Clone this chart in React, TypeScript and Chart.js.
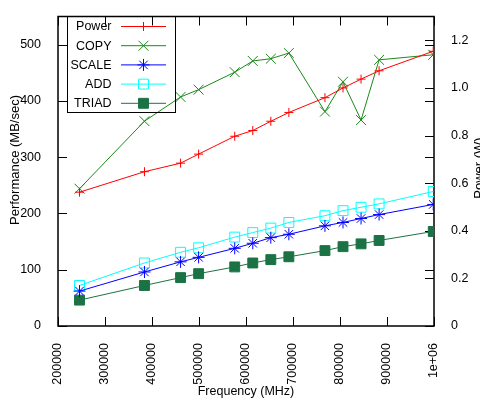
import React, { useEffect, useRef } from 'react';
import { Chart, registerables } from 'chart.js';
import { drawPoint } from 'chart.js/helpers';

Chart.register(...registerables);

const frequencies = [245760, 384000, 460800, 499200, 576000, 614400, 652800, 691200, 768000, 806400, 844800, 883200, 998400];
const powerW = [0.562, 0.648, 0.684, 0.722, 0.797, 0.821, 0.86, 0.897, 0.959, 1.0, 1.037, 1.072, 1.154];
const copyMB = [244, 364, 407, 420, 451, 471, 475, 485, 381, 434, 366, 473, 482];
const scaleMB = [62, 96, 114, 122, 138, 147, 157, 163, 178, 184, 191, 198, 216];
const addMB = [72, 112, 131, 139, 158, 166, 174, 184, 196, 205, 211, 217, 239];
const triadMB = [46, 72, 86, 93, 105, 112, 118, 123, 134, 141, 146, 152, 168];

const xTitle = 'Frequency (MHz)';
const yTitle = 'Performance (MB/sec)';
const y2Title = 'Power (W)';

const FONT = '"Liberation Sans", Arial, Helvetica, sans-serif';

const pts = (vals: number[]) => frequencies.map((f, i) => ({ x: f, y: vals[i] }));

const framePlugin = {
  id: 'frameTicks',
  beforeDatasetsDraw(chart: any) {
    const { ctx, chartArea } = chart;
    const { left, right, top, bottom } = chartArea;
    const sx = chart.scales.x;
    const sy = chart.scales.y;
    const sy2 = chart.scales.y2;
    const T = 9;
    ctx.save();
    ctx.strokeStyle = '#000';
    ctx.lineWidth = 1;
    ctx.beginPath();
    sx.ticks.forEach((t: any) => {
      const px = Math.round(sx.getPixelForValue(t.value)) + 0.5;
      ctx.moveTo(px, bottom);
      ctx.lineTo(px, bottom - T);
      ctx.moveTo(px, top);
      ctx.lineTo(px, top + T);
    });
    sy.ticks.forEach((t: any) => {
      const py = Math.round(sy.getPixelForValue(t.value)) + 0.5;
      ctx.moveTo(left, py);
      ctx.lineTo(left + T, py);
      ctx.moveTo(right, py);
      ctx.lineTo(right - T, py);
    });
    sy2.ticks.forEach((t: any) => {
      const py = Math.round(sy2.getPixelForValue(t.value)) + 0.5;
      ctx.moveTo(right, py);
      ctx.lineTo(right - T, py);
    });
    ctx.stroke();
    ctx.lineWidth = 1.5;
    ctx.strokeRect(left, top, right - left, bottom - top);
    ctx.restore();
  },
  afterDraw(chart: any) {
    const { ctx } = chart;
    ctx.save();
    // y titles
    ctx.fillStyle = '#000';
    ctx.font = `13px ${FONT}`;
    ctx.textAlign = 'center';
    ctx.textBaseline = 'middle';
    ctx.save();
    ctx.translate(15, 160);
    ctx.rotate(-Math.PI / 2);
    ctx.fillText(yTitle, 0, 0);
    ctx.restore();
    ctx.save();
    ctx.translate(479, 168);
    ctx.rotate(-Math.PI / 2);
    ctx.fillText(y2Title, 0, 0);
    ctx.restore();

    // legend
    const bx = 67.5, by = 16.5, bw = 108, bh = 96;
    ctx.strokeStyle = '#000';
    ctx.lineWidth = 1;
    ctx.strokeRect(bx, by, bw, bh);
    ctx.font = `12.5px ${FONT}`;
    ctx.textAlign = 'right';
    ctx.textBaseline = 'middle';
    chart.data.datasets.forEach((ds: any, i: number) => {
      const y = 26.5 + i * 19.2;
      ctx.fillStyle = '#000';
      ctx.fillText(ds.label, 111.5, y + 0.5);
      ctx.strokeStyle = ds.borderColor;
      ctx.lineWidth = 1;
      ctx.beginPath();
      ctx.moveTo(121, y);
      ctx.lineTo(166, y);
      ctx.stroke();
      ctx.fillStyle = ds.pointBackgroundColor;
      ctx.strokeStyle = ds.pointBorderColor;
      drawPoint(ctx, { pointStyle: ds.pointStyle, radius: ds.pointRadius, borderWidth: 1, rotation: 0 } as any, 143.5, y);
    });
    ctx.restore();
  },
};

export default function App() {
  const ref = useRef<HTMLCanvasElement | null>(null);
  useEffect(() => {
    if (!ref.current) return;
    const mk = (label: string, data: number[], color: string, style: string, r: number, fill: string, axis = 'y') => ({
      label,
      data: pts(data),
      yAxisID: axis,
      borderColor: color,
      backgroundColor: fill,
      pointBackgroundColor: fill,
      pointBorderColor: color,
      pointStyle: style,
      pointRadius: r,
      pointBorderWidth: 1,
      borderWidth: 1,
      tension: 0,
    });
    const chart = new Chart(ref.current, {
      type: 'line',
      data: {
        datasets: [
          mk('Power', powerW, '#ff0000', 'cross', 4.5, '#ff0000', 'y2'),
          mk('COPY', copyMB, '#1a8a1a', 'crossRot', 7, '#1a8a1a'),
          mk('SCALE', scaleMB, '#0000ff', 'star', 6, '#0000ff'),
          mk('ADD', addMB, '#00ffff', 'rect', 7, 'rgba(0,0,0,0)'),
          mk('TRIAD', triadMB, '#1b7345', 'rect', 7, '#1b7345'),
        ] as any,
      },
      options: {
        responsive: false,
        animation: false,
        layout: { padding: { top: 6, left: 0, right: 0, bottom: 0 } },
        plugins: { legend: { display: false }, tooltip: { enabled: false } },
        scales: {
          x: {
            type: 'linear',
            min: 200000,
            max: 1000000,
            grid: { display: false },
            border: { display: false },
            ticks: {
              stepSize: 100000,
              autoSkip: false,
              minRotation: 90,
              maxRotation: 90,
              padding: 9,
              color: '#000',
              font: { family: FONT, size: 12.5 },
              callback: (v: any) => (v === 1000000 ? '1e+06' : String(v)),
            },
            title: {
              display: true,
              text: xTitle,
              color: '#000',
              font: { family: FONT, size: 12.5 },
              padding: { top: 0, bottom: 3 },
            },
            afterFit: (s: any) => { s.height = 76; },
          },
          y: {
            type: 'linear',
            position: 'left',
            min: 0,
            max: 550,
            grid: { display: false },
            border: { display: false },
            ticks: {
              stepSize: 100,
              includeBounds: false,
              padding: 9,
              color: '#000',
              font: { family: FONT, size: 12.5 },
            },
            afterFit: (s: any) => { s.width = 58; },
          },
          y2: {
            type: 'linear',
            position: 'right',
            min: 0,
            max: 1.3,
            grid: { display: false },
            border: { display: false },
            ticks: {
              stepSize: 0.2,
              includeBounds: false,
              padding: 9,
              color: '#000',
              font: { family: FONT, size: 12.5 },
            },
            afterFit: (s: any) => { s.width = 46; },
          },
        },
      } as any,
      plugins: [framePlugin],
    });
    return () => chart.destroy();
  }, []);
  return (
    <div style={{ position: 'fixed', left: 0, top: 0, width: 480, height: 402, background: '#fff' }}>
      <canvas ref={ref} width={480} height={402} style={{ display: 'block' }} />
    </div>
  );
}
